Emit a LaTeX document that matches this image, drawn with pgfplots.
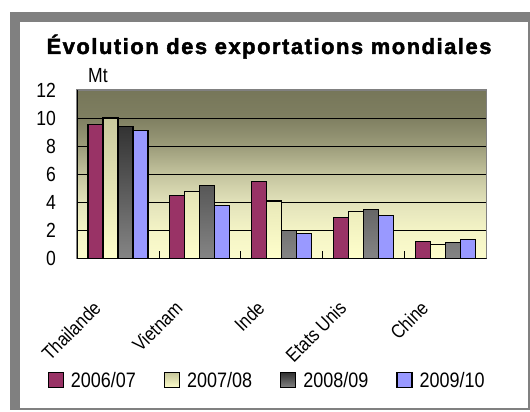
\documentclass[border=0pt]{standalone}
\usepackage{fontspec}
\setmainfont{Liberation Sans}[FakeStretch=0.86]
\newfontfamily\titlefont{Liberation Sans Bold}[LetterSpace=7, FakeBold=2]
\usepackage{pgfplots}
\pgfplotsset{compat=1.18}
\definecolor{frame}{HTML}{808080}
\definecolor{maroon}{HTML}{993366}
\definecolor{creamtop}{HTML}{C8C89C}
\definecolor{creambot}{HTML}{FFFFCC}
\definecolor{darktop}{HTML}{333333}
\definecolor{darkbot}{HTML}{858585}
\definecolor{lblue}{HTML}{9999FF}
\definecolor{bg0}{HTML}{FBFBCC}
\definecolor{bg1}{HTML}{F4F4C6}
\definecolor{bg2}{HTML}{E2E2BA}
\definecolor{bg3}{HTML}{C4C49E}
\definecolor{bg4}{HTML}{9C9C7A}
\definecolor{bg5}{HTML}{7F7F61}
\definecolor{bg6}{HTML}{767659}
\pgfdeclareverticalshading{plotbg}{100bp}{color(0bp)=(bg0); color(25bp)=(bg0); color(33.3bp)=(bg1); color(41.7bp)=(bg2); color(50bp)=(bg3); color(58.3bp)=(bg4); color(66.7bp)=(bg5); color(75bp)=(bg6); color(100bp)=(bg6)}
\newcommand{\tfont}{\fontsize{20.5}{24}\selectfont}
\begin{document}
\begin{tikzpicture}
\fill[white] (0bp,0bp) rectangle (530bp,412bp);
\fill[frame] (10bp,2bp) rectangle (530bp,400bp);
\fill[white] (20bp,4bp) rectangle (528bp,390bp);
\node[font=\titlefont\fontsize{22}{25}\selectfont, anchor=base, inner sep=0pt] at (269bp,358bp) {Évolution des exportations mondiales};
\node[font=\tfont, anchor=base, inner sep=0pt] at (98bp,329bp) {Mt};
\begin{axis}[
  at={(77bp,153.5bp)}, anchor=south west,
  scale only axis, width=409.5bp, height=168.5bp,
  xmin=-0.5, xmax=4.5, ymin=0, ymax=12,
  ybar=0pt, bar width=15bp,
  axis background/.style={shading=plotbg},
  axis line style={draw=frame, line width=1.5bp},
  xtick={0,...,4},
  xticklabels={Thailande,Vietnam,Inde,Etats Unis,Chine},
  minor xtick={0.5,1.5,2.5,3.5},
  ytick={0,2,...,12},
  xtick pos=bottom, ytick pos=left,
  tick align=inside,
  major tick length=7bp, minor tick length=7bp,
  major x tick style={draw=none},
  minor x tick style={draw=black, line width=0.8bp},
  major y tick style={draw=black, line width=0.8bp},
  ymajorgrids, grid style={draw=black, line width=0.8bp},
  /pgf/number format/assume math mode=true,
  yticklabel style={font=\tfont, anchor=east, inner sep=0pt, xshift=-21bp},
  xticklabel style={font=\fontsize{19.5}{22}\selectfont, inner sep=0pt, anchor=north east, xshift=-26bp, yshift=-41bp, rotate=45},
  legend columns=4,
  legend style={draw=none, fill=none, at={(axis description cs:-0.072,-0.7234)}, anchor=west, inner sep=0pt,
    nodes={inner sep=0pt, font=\fontsize{21}{24}\selectfont},
    /tikz/every odd column/.append style={column sep=7bp},
    /tikz/every even column/.append style={column sep=28bp}},
]
\addplot[fill=maroon, draw=black, line width=1.2bp, legend image code/.code={\draw[fill=maroon,draw=black,line width=1.2bp] (0bp,-7.5bp) rectangle (15bp,7.5bp);}] coordinates {(0,9.53) (1,4.47) (2,5.48) (3,2.93) (4,1.22)};
\addlegendentry{2006/07}
\addplot[top color=creamtop, bottom color=creambot, draw=black, line width=1.2bp, legend image code/.code={\draw[top color=creamtop,bottom color=creambot,draw=black,line width=1.2bp] (0bp,-7.5bp) rectangle (15bp,7.5bp);}] coordinates {(0,10.0) (1,4.75) (2,4.10) (3,3.37) (4,0.98)};
\addlegendentry{2007/08}
\addplot[top color=darktop, bottom color=darkbot, draw=black, line width=1.2bp, legend image code/.code={\draw[top color=darktop,bottom color=darkbot,draw=black,line width=1.2bp] (0bp,-7.5bp) rectangle (15bp,7.5bp);}] coordinates {(0,9.39) (1,5.20) (2,1.97) (3,3.51) (4,1.12)};
\addlegendentry{2008/09}
\addplot[fill=lblue, draw=black, line width=1.2bp, legend image code/.code={\draw[fill=lblue,draw=black,line width=1.2bp] (0bp,-7.5bp) rectangle (15bp,7.5bp);}] coordinates {(0,9.13) (1,3.75) (2,1.78) (3,3.09) (4,1.38)};
\addlegendentry{2009/10}
\draw[black, line width=1.2bp] (rel axis cs:0,1) -- (rel axis cs:0,0) -- (rel axis cs:1,0);
\end{axis}
\end{tikzpicture}
\end{document}
